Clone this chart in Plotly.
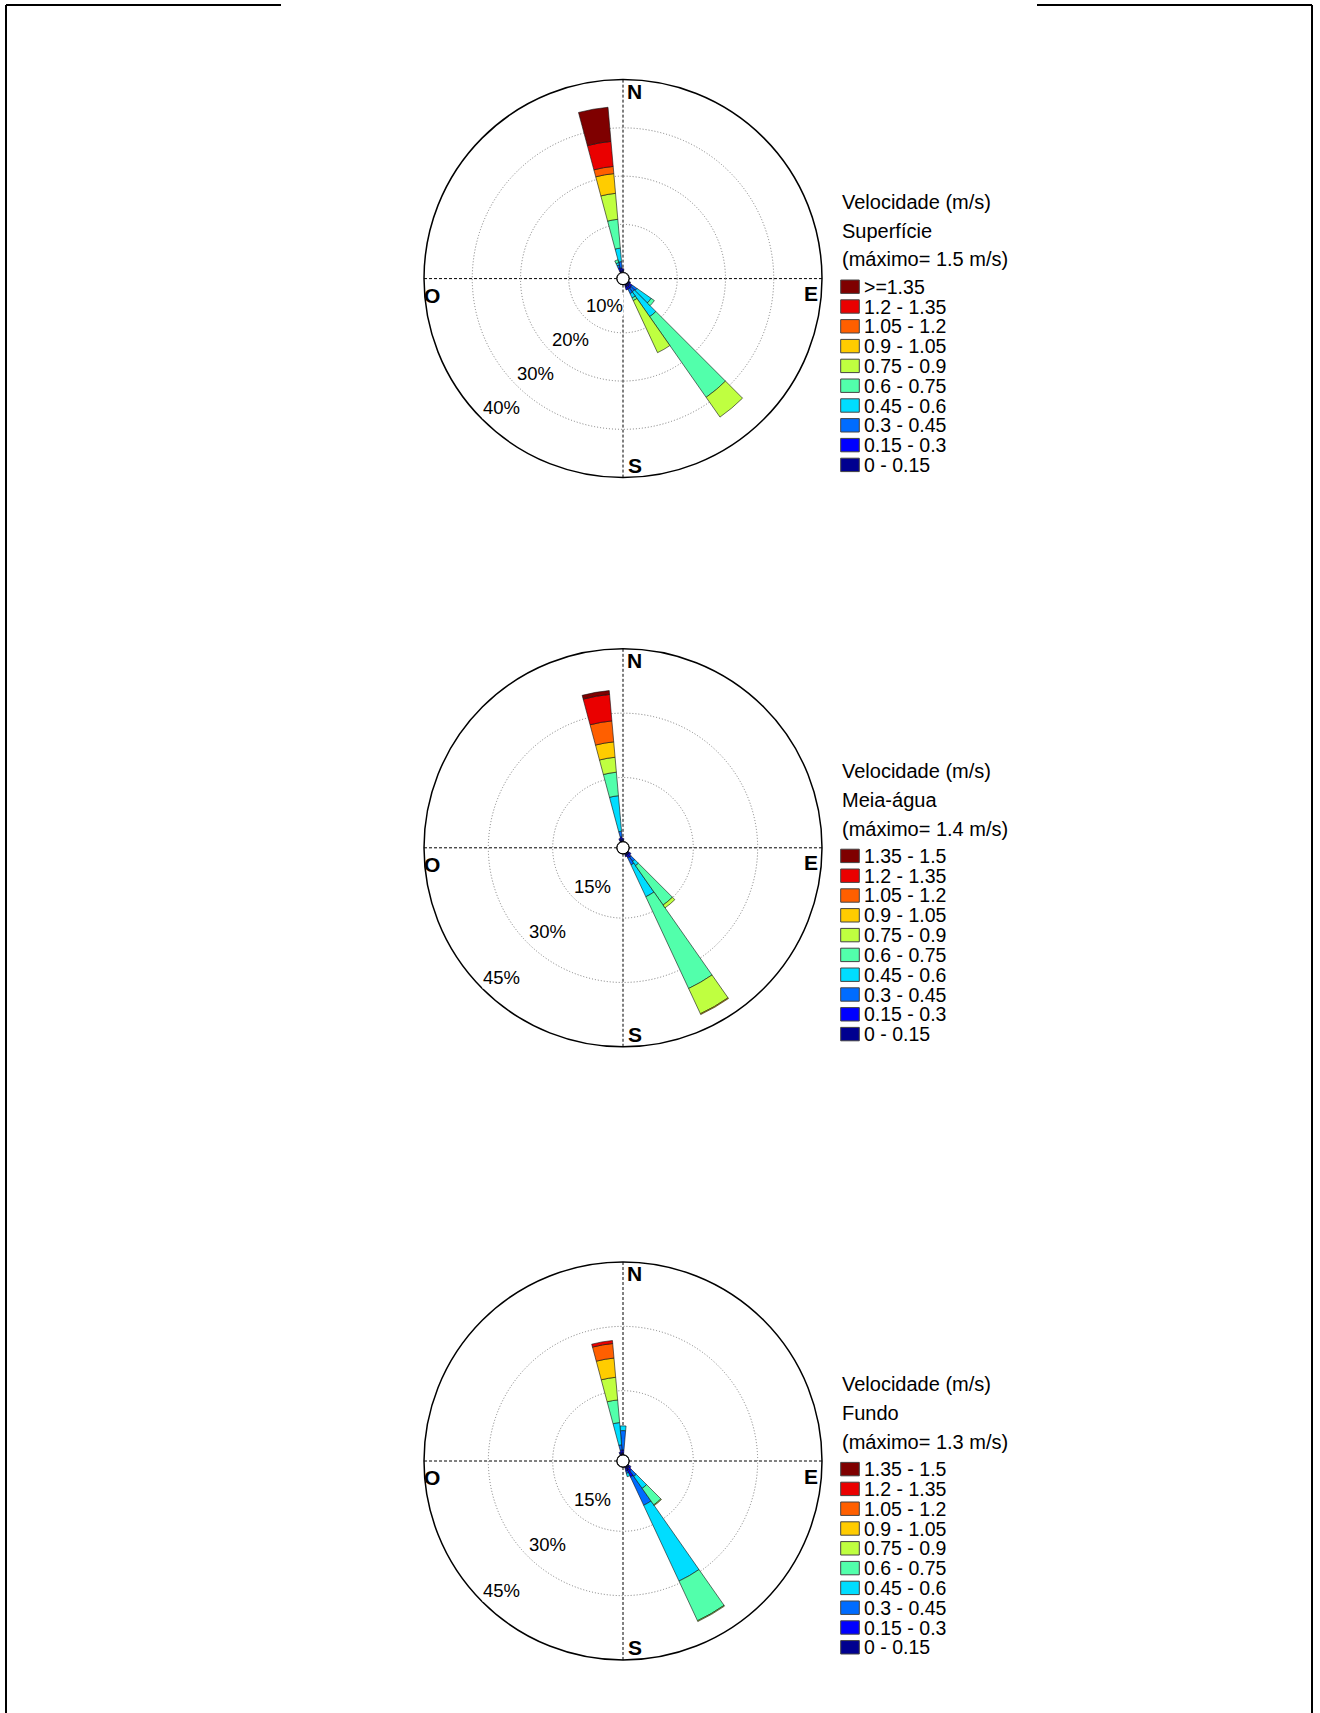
import plotly.graph_objects as go

W, H = 1320, 1713

# ---------------- data ----------------
speed_classes = ["0 - 0.15", "0.15 - 0.3", "0.3 - 0.45", "0.45 - 0.6", "0.6 - 0.75",
                 "0.75 - 0.9", "0.9 - 1.05", "1.05 - 1.2", "1.2 - 1.35", "1.35 - 1.5"]
class_colors = ["#00008f", "#0000ff", "#006cff", "#00ddff", "#52ffab",
                "#bfff40", "#ffcc00", "#ff5f00", "#ea0000", "#7f0000"]

# Superfície : one row per direction (degrees), classes low -> high (% of time)
sup_dirs = [0, 120, 130, 140, 150, 160, 340, 350]
sup_freq = [
    [0.5, 0.3, 0, 0, 0, 0, 0, 0, 0, 0],
    [0.5, 0, 0, 0, 0, 0, 0, 0, 0, 0],
    [0.5, 0.6, 1.2, 3.6, 0.8, 0, 0, 0, 0, 0],
    [0.6, 0.6, 0.9, 6.3, 20.4, 5.0, 0, 0, 0, 0],
    [0.5, 0.7, 1.0, 1.0, 0.6, 11.9, 0, 0, 0, 0],
    [0.6, 0.6, 0, 0, 0, 0, 0, 0, 0, 0],
    [0.5, 0.6, 0.6, 0.5, 0.6, 0, 0, 0, 0, 0],
    [0.4, 0.6, 1.3, 2.8, 6.0, 5.4, 4.1, 1.5, 5.2, 7.1],
]

# Meia-água
mei_dirs = [0, 130, 140, 150, 160, 340, 350]
mei_freq = [
    [0.5, 0.3, 0, 0, 0, 0, 0, 0, 0, 0],
    [0.5, 0.4, 0, 0, 0, 0, 0, 0, 0, 0],
    [0.5, 0.8, 1.2, 1.2, 11.2, 0.8, 0, 0, 0, 0],
    [0.5, 0.7, 1.8, 8.2, 23.6, 6.5, 0.2, 0, 0, 0],
    [0.5, 0.3, 0, 0, 0, 0, 0, 0, 0, 0],
    [0.5, 0.4, 0, 0, 0, 0, 0, 0, 0, 0],
    [0.6, 0.6, 1.3, 8.3, 5.5, 3.5, 3.6, 4.9, 6.2, 0.9],
]

# Fundo
fun_dirs = [0, 130, 140, 150, 160, 340, 350]
fun_freq = [
    [0.5, 0.7, 4.5, 1.1, 0, 0, 0, 0, 0, 0],
    [0.5, 0.4, 0, 0, 0, 0, 0, 0, 0, 0],
    [0.6, 0.8, 1.6, 3.4, 4.7, 0.2, 0, 0, 0, 0],
    [1.0, 1.7, 7.3, 19.5, 10.2, 0.2, 0, 0, 0, 0],
    [0.5, 0.6, 0.5, 0.8, 0, 0, 0, 0, 0, 0],
    [0.5, 0.3, 0, 0, 0, 0, 0, 0, 0, 0],
    [0.5, 0.7, 1.2, 5.2, 5.3, 5.3, 4.5, 3.4, 0.7, 0],
]

layer_names = ["Superfície", "Meia-água", "Fundo"]
max_speeds = ["1.5", "1.4", "1.3"]
top_labels = [">=1.35", "1.35 - 1.5", "1.35 - 1.5"]
radial_max = [40, 45, 45]
radial_ticks = [[10, 20, 30], [15, 30], [15, 30]]
compass = ["N", "E", "S", "O"]

# ---------------- layout helpers ----------------
centers = [(623, 278.6), (623, 847.8), (623, 1461)]
R = 199
HOLE = 0.03
FONT = "Liberation Sans, Arial"


def px(x):
    return x / W


def py(y):
    return 1 - y / H


fig = go.Figure()
datasets = [(sup_dirs, sup_freq), (mei_dirs, mei_freq), (fun_dirs, fun_freq)]
annotations = []
shapes = []

for i, (dirs, freq) in enumerate(datasets):
    pid = "polar" if i == 0 else f"polar{i + 1}"
    for k, cname in enumerate(speed_classes):
        r = [row[k] if row[k] > 0 else None for row in freq]
        fig.add_trace(go.Barpolar(
            r=r, theta=dirs, width=[10] * len(dirs), name=cname,
            marker=dict(color=class_colors[k], line=dict(color="#111111", width=0.6)),
            subplot=pid, showlegend=False, hoverinfo="r+theta+name",
        ))
    cx, cy = centers[i]
    rmax = radial_max[i]
    fig.update_layout({pid: dict(
        domain=dict(x=[px(cx - R), px(cx + R)], y=[py(cy + R), py(cy - R)]),
        hole=HOLE,
        bgcolor="white",
        barmode="stack",
        angularaxis=dict(rotation=90, direction="clockwise",
                         tickvals=[0, 90, 180, 270], showticklabels=False, ticks="",
                         showgrid=True, gridcolor="black", gridwidth=1, griddash="3px,2px",
                         showline=True, linecolor="black", linewidth=1.5),
        radialaxis=dict(range=[0, rmax], tickvals=radial_ticks[i], showticklabels=False,
                        ticks="", showline=False, showgrid=True, gridcolor="#7a7a7a",
                        gridwidth=1, griddash="1px,2px"),
    )})

    # radial labels (placed at the SW point of each ring)
    for v in radial_ticks[i] + [rmax]:
        rr = HOLE * R + (1 - HOLE) * R * v / rmax
        annotations.append(dict(
            x=px(cx - rr * 0.7071), y=py(cy + rr * 0.7071), xref="paper", yref="paper",
            text=f"{v}%", showarrow=False, xanchor="left", yanchor="bottom",
            bgcolor="white", borderpad=0,
            font=dict(family=FONT, size=18.5, color="black")))

    # compass letters
    offs = {"N": (11.5, -187.5), "E": (188, 15), "S": (11.5, 186.5), "O": (-191.5, 16.5)}
    for lab in compass:
        dx, dy = offs[lab]
        annotations.append(dict(
            x=px(cx + dx), y=py(cy + dy), xref="paper", yref="paper", text=f"<b>{lab}</b>",
            showarrow=False, xanchor="center", yanchor="middle",
            font=dict(family=FONT, size=21, color="black")))

    # centre circle
    shapes.append(dict(type="circle", xref="paper", yref="paper",
                       x0=px(cx - 6), x1=px(cx + 6), y0=py(cy + 6), y1=py(cy - 6),
                       fillcolor="white", line=dict(color="black", width=1), layer="above"))

    # legend block
    header = ["Velocidade (m/s)", layer_names[i], f"(máximo= {max_speeds[i]} m/s)"]
    for t, dy in zip(header, [-77, -47.6, -19.3]):
        annotations.append(dict(
            x=px(839.5), y=py(cy + dy), xref="paper", yref="paper", text=t,
            showarrow=False, xanchor="left", yanchor="middle",
            font=dict(family=FONT, size=20, color="black")))
    labels = speed_classes[:-1] + [top_labels[i]]
    for j in range(10):
        k = 9 - j
        yc = cy + 8.1 + 19.8 * j
        shapes.append(dict(type="rect", xref="paper", yref="paper",
                           x0=px(840.7), x1=px(859.3), y0=py(yc + 6.7), y1=py(yc - 6.7),
                           fillcolor=class_colors[k], line=dict(color="#444444", width=1)))
        annotations.append(dict(
            x=px(861.5), y=py(yc), xref="paper", yref="paper", text=labels[k],
            showarrow=False, xanchor="left", yanchor="middle",
            font=dict(family=FONT, size=19.5, color="black")))

# page frame
frame = [((6, 5), (281, 5)), ((1037, 5), (1312, 5)), ((6, 5), (6, H)), ((1312, 5), (1312, H))]
for (x0, y0), (x1, y1) in frame:
    shapes.append(dict(type="line", xref="paper", yref="paper",
                       x0=px(x0), y0=py(y0), x1=px(x1), y1=py(y1),
                       line=dict(color="black", width=2)))

fig.update_layout(
    width=W, height=H, margin=dict(l=0, r=0, t=0, b=0),
    paper_bgcolor="white", plot_bgcolor="white", showlegend=False,
    annotations=annotations, shapes=shapes,
    font=dict(family=FONT, color="black"),
)

fig.write_html("out.html")
